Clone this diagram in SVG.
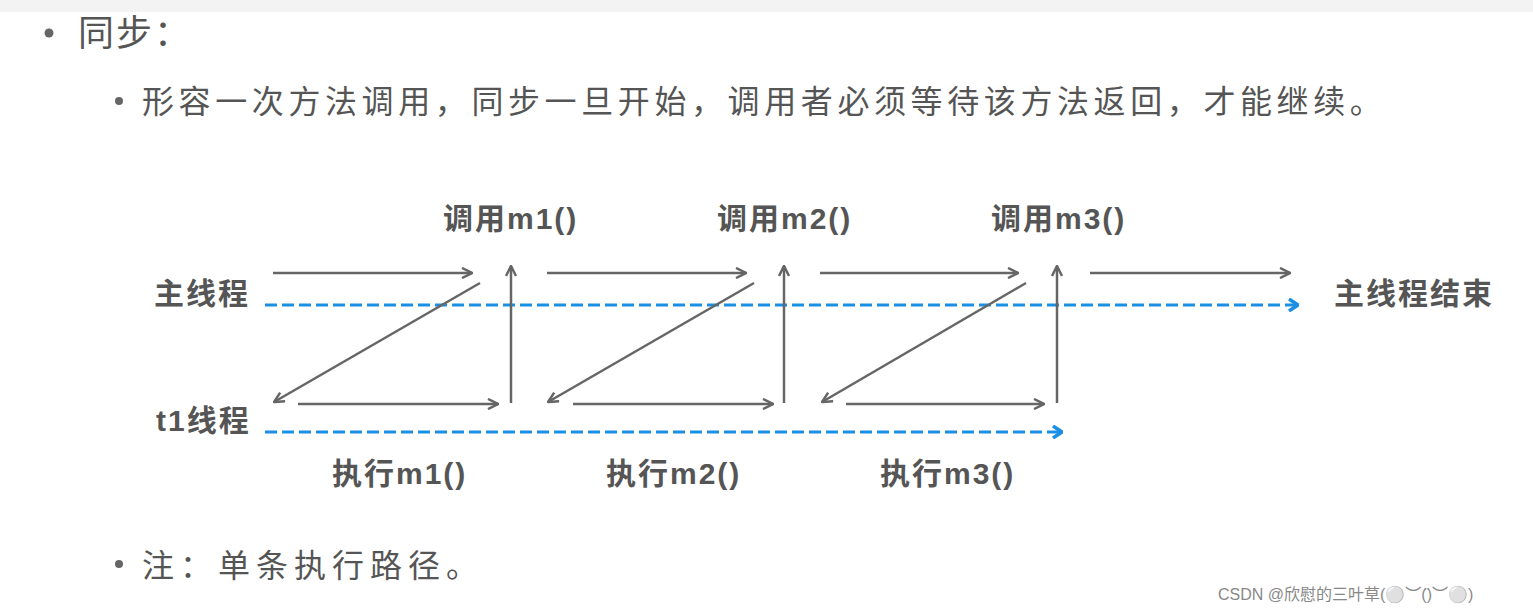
<svg xmlns="http://www.w3.org/2000/svg" width="1533" height="614" viewBox="0 0 1533 614">
<style>
.t{font-family:"Noto Sans CJK SC","Liberation Sans",sans-serif;fill:#555}
.b{font-family:"Liberation Sans","Noto Sans CJK SC",sans-serif;font-weight:bold;fill:#555;font-size:30px;letter-spacing:2px}
.a{stroke:#666;stroke-width:2.5;fill:none;marker-end:url(#ah)}
.d{stroke:#1a8fe3;stroke-width:3;stroke-dasharray:12 5;fill:none;marker-end:url(#bh)}
</style>
<defs>
<marker id="ah" viewBox="0 0 12 12" refX="11" refY="6" markerWidth="12" markerHeight="12" markerUnits="userSpaceOnUse" orient="auto"><path d="M1 1L11 6L1 11" stroke="#666" stroke-width="2.5" fill="none"/></marker>
<marker id="bh" viewBox="0 0 12 14" refX="11" refY="7" markerWidth="12" markerHeight="14" markerUnits="userSpaceOnUse" orient="auto"><path d="M2 1L11 7L2 13" stroke="#1a8fe3" stroke-width="3.5" fill="none"/></marker>
</defs>
<rect width="1533" height="614" fill="#fff"/>
<rect width="1533" height="12" fill="#f3f3f3"/>
<g id="title"><circle cx="49" cy="33" r="4.5" fill="#666"/><text class="t" x="78" y="46" font-size="36" letter-spacing="2">同步：</text></g>
<g id="desc"><circle cx="119" cy="101" r="4" fill="#666"/><text class="t" x="142" y="113" font-size="32" letter-spacing="4.6">形容一次方法调用，同步一旦开始，调用者必须等待该方法返回，才能继续。</text></g>
<g id="note"><circle cx="119" cy="564" r="4" fill="#666"/><text class="t" x="142" y="577" font-size="32" letter-spacing="6">注：单条执行路径。</text></g>
<g id="labels">
<text class="b" x="443" y="229">调用m1()</text>
<text class="b" x="717" y="229">调用m2()</text>
<text class="b" x="991" y="229">调用m3()</text>
<text class="b" x="154" y="304">主线程</text>
<text class="b" x="1334" y="304">主线程结束</text>
<text class="b" x="156" y="431">t1线程</text>
<text class="b" x="332" y="484">执行m1()</text>
<text class="b" x="606" y="484">执行m2()</text>
<text class="b" x="880" y="484">执行m3()</text>
</g>
<g id="connectors">
<path class="d" d="M265 305H1298"/>
<path class="d" d="M265 432H1062"/>
<path class="a" d="M273 273H472"/>
<path class="a" d="M547 273H746"/>
<path class="a" d="M820 273H1018"/>
<path class="a" d="M1090 273H1290"/>
<path class="a" d="M480 283L274 402"/>
<path class="a" d="M754 283L548 402"/>
<path class="a" d="M1026 283L822 402"/>
<path class="a" d="M298 404H498"/>
<path class="a" d="M573 404H773"/>
<path class="a" d="M846 404H1044"/>
<path class="a" d="M511 403V266"/>
<path class="a" d="M784 403V266"/>
<path class="a" d="M1057 403V266"/>
</g>
<text x="1218" y="600" font-size="16" font-family="Liberation Sans,Noto Sans CJK SC,sans-serif" fill="#888">CSDN @欣慰的三叶草(⚪︶(̈)︶⚪)</text>
</svg>
